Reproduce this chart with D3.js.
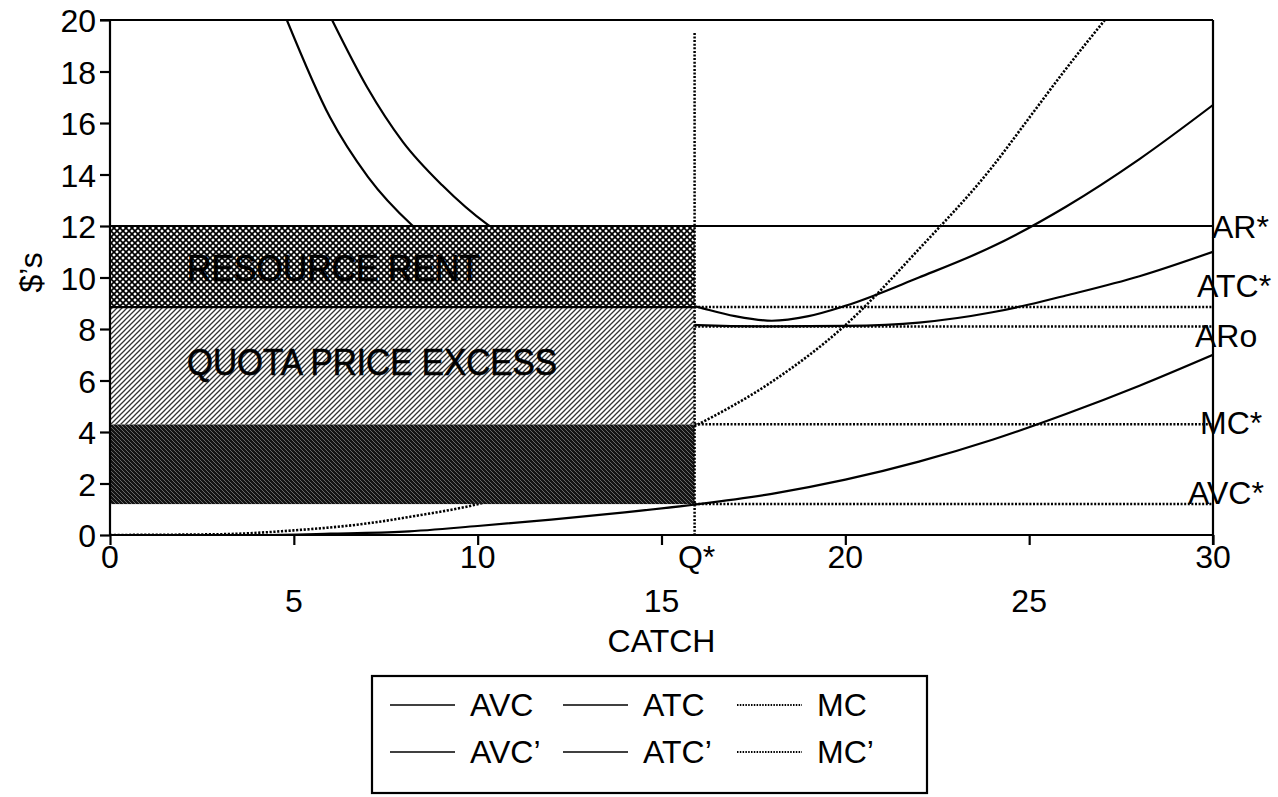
<!DOCTYPE html>
<html>
<head>
<meta charset="utf-8">
<script src="https://cdn.jsdelivr.net/npm/d3@7"></script>
<style>
  html, body { margin: 0; padding: 0; background: #fff; }
  svg { display: block; font-family: "Liberation Sans", Arial, Helvetica, sans-serif; }
</style>
</head>
<body>
<svg id="chart" width="1278" height="797"></svg>
<script>
// ---------------- data ----------------
const xTicksRow1 = [0, 10, 20, 30];
const xTicksRow2 = [5, 15, 25];
const xTickMarks = [0, 5, 10, 15, 20, 25, 30];
const yTicks = [0, 2, 4, 6, 8, 10, 12, 14, 16, 18, 20];

const qStar = 15.9;
const arStar = 12;
const atcStar = 8.85;
const aro = 8.1;
const mcStar = 4.3;
const avcStar = 1.2;

const avcCatch  = [0, 4, 6, 8, 10, 12, 14, 16, 18, 20, 22, 24, 26, 28, 30];
const avcValues = [0, 0.0, 0.05, 0.13, 0.35, 0.6, 0.88, 1.2, 1.6, 2.15, 2.85, 3.7, 4.7, 5.8, 7.0];

const mcCatch  = [0, 3, 5, 7, 8.3, 9.7, 12, 14, 16, 18, 20, 22, 24, 25, 26, 27.06];
const mcValues = [0, 0.03, 0.18, 0.45, 0.74, 1.1, 2.0, 3.0, 4.3, 5.95, 8.15, 11.1, 14.3, 16.2, 18.1, 20];

const atcCatch  = [4.81, 5.98, 7.02, 8.21, 10, 12, 14, 16, 18, 20, 22, 24, 25, 26, 28, 30];
const atcValues = [20, 16.23, 13.9, 12.04, 10.3, 9.3, 8.6, 8.15, 8.1, 8.12, 8.25, 8.65, 8.95, 9.3, 10.05, 11.0];

const atc2Catch  = [6.04, 6.99, 7.97, 9.03, 10.28, 12, 14, 16, 17, 18, 19, 20, 22, 24, 26, 28, 30];
const atc2Values = [20, 17.4, 15.26, 13.59, 12.04, 10.7, 9.6, 8.85, 8.5, 8.32, 8.5, 8.9, 10.0, 11.2, 12.75, 14.6, 16.7];

const rightLabels = ["AR*", "ATC*", "ARo", "MC*", "AVC*"];
const rightLabelValues = [arStar, atcStar, aro, mcStar, avcStar];

const legendRow1 = ["AVC", "ATC", "MC"];
const legendRow2 = ["AVC\u2019", "ATC\u2019", "MC\u2019"];
const legendDotted = [false, false, true];

// ---------------- drawing ----------------
const svg = d3.select("#chart");
const x = d3.scaleLinear().domain([0, 30]).range([110, 1213]);
const y = d3.scaleLinear().domain([0, 20]).range([535, 20]);

const defs = svg.append("defs");
const p1 = defs.append("pattern").attr("id", "rr").attr("patternUnits", "userSpaceOnUse")
  .attr("width", 6).attr("height", 6);
p1.append("rect").attr("width", 6).attr("height", 6).attr("fill", "#fff");
p1.append("path").attr("d", "M0,0L6,6M6,0L0,6").attr("stroke", "#000").attr("stroke-width", 1.7);
const p2 = defs.append("pattern").attr("id", "qpe").attr("patternUnits", "userSpaceOnUse")
  .attr("width", 5).attr("height", 5);
p2.append("rect").attr("width", 5).attr("height", 5).attr("fill", "#fff");
p2.append("path").attr("d", "M-1,6L6,-1M-1,1L1,-1M4,6L6,4").attr("stroke", "#333").attr("stroke-width", 1.3);
const p3 = defs.append("pattern").attr("id", "dk").attr("patternUnits", "userSpaceOnUse")
  .attr("width", 4).attr("height", 4);
p3.append("rect").attr("width", 4).attr("height", 4).attr("fill", "#141414");
p3.append("path").attr("d", "M-1,-1L5,5M3,-1L5,1M-1,3L1,5").attr("stroke", "#707070").attr("stroke-width", 0.9);

const line = d3.line().x(d => x(d[0])).y(d => y(d[1])).curve(d3.curveMonotoneX);
const clip = defs.append("clipPath").attr("id", "plotclip");
clip.append("rect").attr("x", x(0)).attr("y", y(20)).attr("width", x(30) - x(0)).attr("height", y(0) - y(20));

const curves = svg.append("g").attr("clip-path", "url(#plotclip)");
function drawCurve(cx, cy, dotted) {
  const p = curves.append("path").datum(cx.map((v, i) => [v, cy[i]]))
    .attr("d", line).attr("fill", "none").attr("stroke", "#000")
    .attr("stroke-width", dotted ? 2.6 : 2.2);
  if (dotted) p.attr("stroke-dasharray", "2.2,1.6");
}
drawCurve(avcCatch, avcValues, false);
drawCurve(mcCatch, mcValues, true);
drawCurve(atcCatch, atcValues, false);
drawCurve(atc2Catch, atc2Values, false);

// shaded regions
const regions = svg.append("g");
regions.append("rect").attr("x", x(0)).attr("width", x(qStar) - x(0))
  .attr("y", y(mcStar)).attr("height", y(avcStar) - y(mcStar)).attr("fill", "url(#dk)");
regions.append("rect").attr("x", x(0)).attr("width", x(qStar) - x(0))
  .attr("y", y(atcStar)).attr("height", y(mcStar) - y(atcStar)).attr("fill", "url(#qpe)");
regions.append("rect").attr("x", x(0)).attr("width", x(qStar) - x(0))
  .attr("y", y(arStar)).attr("height", y(atcStar) - y(arStar)).attr("fill", "url(#rr)");
regions.append("line").attr("x1", x(0)).attr("x2", x(qStar)).attr("y1", y(atcStar)).attr("y2", y(atcStar))
  .attr("stroke", "#000").attr("stroke-width", 2.2);

regions.append("text").attr("x", 187).attr("y", y(10.35) + 13).text("RESOURCE RENT")
  .attr("font-size", 36).attr("textLength", 293).attr("lengthAdjust", "spacingAndGlyphs")
  .attr("fill", "#000").attr("stroke", "#000").attr("stroke-width", 0.6);
regions.append("text").attr("x", 187).attr("y", y(6.7) + 13).text("QUOTA PRICE EXCESS")
  .attr("font-size", 36).attr("textLength", 370).attr("lengthAdjust", "spacingAndGlyphs")
  .attr("fill", "#000").attr("stroke", "#000").attr("stroke-width", 0.6);

// horizontal reference lines
svg.append("line").attr("x1", x(0)).attr("x2", x(30)).attr("y1", y(arStar)).attr("y2", y(arStar))
  .attr("stroke", "#000").attr("stroke-width", 2.2);
[atcStar, aro, mcStar, avcStar].forEach(v => {
  svg.append("line").attr("x1", x(qStar)).attr("x2", x(30)).attr("y1", y(v)).attr("y2", y(v))
    .attr("stroke", "#000").attr("stroke-width", 2.5).attr("stroke-dasharray", "2,1.6");
});
svg.append("line").attr("x1", x(qStar)).attr("x2", x(qStar)).attr("y1", y(19.5)).attr("y2", y(0))
  .attr("stroke", "#000").attr("stroke-width", 2.5).attr("stroke-dasharray", "2,1.6");

// frame / axes
const axes = svg.append("g").attr("stroke", "#000").attr("stroke-width", 2.2);
axes.append("line").attr("x1", x(0)).attr("x2", x(30)).attr("y1", y(20)).attr("y2", y(20));
axes.append("line").attr("x1", x(30)).attr("x2", x(30)).attr("y1", y(20)).attr("y2", y(0) + 10);

const yAxis = d3.axisLeft(y).tickValues(yTicks).tickSize(10).tickPadding(4).tickFormat(d3.format("d"));
const gy = svg.append("g").attr("transform", `translate(${x(0)},0)`).call(yAxis);
gy.select(".domain").attr("stroke-width", 2.2).attr("d", `M-10,${y(20)}H0V${y(0)}`);
gy.selectAll(".tick line").attr("stroke-width", 2.2);
gy.selectAll(".tick text").attr("font-size", 32).attr("font-family", "Liberation Sans, Arial, sans-serif")
  .attr("fill", "#000").attr("dy", "0.36em");

const xAxis = d3.axisBottom(x).tickValues(xTickMarks).tickSize(10).tickFormat("");
const gx = svg.append("g").attr("transform", `translate(0,${y(0)})`).call(xAxis);
gx.select(".domain").attr("stroke-width", 2.2).attr("d", `M${x(0)},0H${x(30)}`);
gx.selectAll(".tick line").attr("stroke-width", 2.2);

const xl = svg.append("g").attr("font-size", 32).attr("text-anchor", "middle").attr("fill", "#000");
xTicksRow1.forEach(v => xl.append("text").attr("x", x(v)).attr("y", 568).text(v));
xl.append("text").attr("x", x(qStar) + 2).attr("y", 568).text("Q*");
xTicksRow2.forEach(v => xl.append("text").attr("x", x(v)).attr("y", 612).text(v));
xl.append("text").attr("x", x(15)).attr("y", 652).text("CATCH");

svg.append("text").attr("transform", `translate(42,${y(10.2)}) rotate(-90)`)
  .attr("text-anchor", "middle").attr("font-size", 32).text("$\u2019s");

// right labels
const rlOffsets = [[1212, 12], [1197, -10], [1195, 21], [1200, 10], [1188, 0]];
rightLabels.forEach((t, i) => {
  svg.append("text").attr("x", rlOffsets[i][0]).attr("y", y(rightLabelValues[i]) + rlOffsets[i][1])
    .attr("font-size", 32).text(t);
});

// legend
const lg = svg.append("g");
lg.append("rect").attr("x", 372).attr("y", 676).attr("width", 555).attr("height", 117)
  .attr("fill", "#fff").attr("stroke", "#000").attr("stroke-width", 2.2);
const colX = [390, 563, 737];
[legendRow1, legendRow2].forEach((row, r) => {
  const cy = 705 + r * 47;
  row.forEach((t, i) => {
    const l = lg.append("line").attr("x1", colX[i]).attr("x2", colX[i] + 65).attr("y1", cy).attr("y2", cy)
      .attr("stroke", "#000").attr("stroke-width", legendDotted[i] ? 2 : 1.6);
    if (legendDotted[i]) l.attr("stroke-dasharray", "1.5,1.3");
    lg.append("text").attr("x", colX[i] + 80).attr("y", cy + 11).attr("font-size", 32).text(t);
  });
});
</script>
</body>
</html>
